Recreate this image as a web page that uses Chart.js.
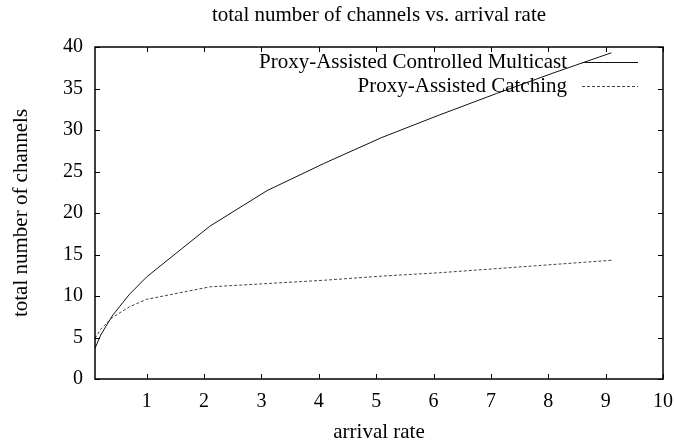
<!DOCTYPE html>
<html>
<head>
<meta charset="utf-8">
<script src="https://cdn.jsdelivr.net/npm/chart.js@4.4.1/dist/chart.umd.min.js"></script>
<style>
html,body{margin:0;padding:0;background:#fff;}
#wrap{width:674px;height:445px;}
</style>
</head>
<body>
<div id="wrap"><canvas id="c" width="674" height="445"></canvas></div>
<script>
const chartTitle = 'total number of channels vs. arrival rate';
const xTitle = 'arrival rate';
const yTitle = 'total number of channels';
const seriesNames = ['Proxy-Assisted Controlled Multicast', 'Proxy-Assisted Catching'];
const arrivalRate = [0.1, 0.2, 0.4, 0.7, 1, 2.1, 3.1, 4.1, 5.1, 6.1, 7.1, 8.1, 9.1];
const multicast = [3.7, 5.3, 7.6, 10.2, 12.3, 18.4, 22.7, 26.0, 29.1, 31.8, 34.4, 36.9, 39.3];
const catching = [4.9, 6.0, 7.4, 8.7, 9.6, 11.1, 11.5, 11.9, 12.4, 12.8, 13.3, 13.8, 14.3];
const xTicks = [1, 2, 3, 4, 5, 6, 7, 8, 9, 10];
const yTicks = [0, 5, 10, 15, 20, 25, 30, 35, 40];

const SERIF = '"Liberation Serif", "DejaVu Serif", serif';

function pts(xs, ys) { return xs.map((x, i) => ({x: x, y: ys[i]})); }

const framePlugin = {
  id: 'frame',
  afterDraw(chart) {
    const ctx = chart.ctx, a = chart.chartArea;
    const xs = chart.scales.x, ys = chart.scales.y;
    ctx.save();
    ctx.strokeStyle = '#000';
    ctx.lineWidth = 1.5;
    ctx.strokeRect(a.left, a.top, a.right - a.left, a.bottom - a.top);
    ctx.lineWidth = 1;
    const L = 5;
    xTicks.forEach(v => {
      const p = Math.round(xs.getPixelForValue(v)) + 0.5;
      ctx.beginPath();
      ctx.moveTo(p, a.bottom); ctx.lineTo(p, a.bottom - L);
      ctx.moveTo(p, a.top); ctx.lineTo(p, a.top + L);
      ctx.stroke();
    });
    yTicks.forEach(v => {
      const p = Math.round(ys.getPixelForValue(v)) + 0.5;
      ctx.beginPath();
      ctx.moveTo(a.left, p); ctx.lineTo(a.left + L, p);
      ctx.moveTo(a.right, p); ctx.lineTo(a.right - L, p);
      ctx.stroke();
    });
    // title centered over plot area
    ctx.fillStyle = '#000';
    ctx.font = '21px ' + SERIF;
    ctx.textAlign = 'center';
    ctx.textBaseline = 'middle';
    ctx.fillText(chartTitle, (a.left + a.right) / 2, 15);
    // legend (text right-aligned, sample to the right)
    ctx.font = '21px ' + SERIF;
    ctx.textAlign = 'right';
    const textRight = a.right - 96;
    const rows = [62, 86];
    chart.data.datasets.forEach((ds, i) => {
      const y = rows[i];
      ctx.fillStyle = '#000';
      ctx.fillText(ds.label, textRight, y);
      ctx.beginPath();
      ctx.strokeStyle = ds.borderColor;
      ctx.lineWidth = ds.borderWidth;
      ctx.setLineDash(ds.borderDash || []);
      ctx.moveTo(a.right - 81, y + 0.5);
      ctx.lineTo(a.right - 25, y + 0.5);
      ctx.stroke();
      ctx.setLineDash([]);
    });
    ctx.restore();
  }
};

new Chart(document.getElementById('c'), {
  type: 'line',
  data: {
    datasets: [
      {label: seriesNames[0], data: pts(arrivalRate, multicast), borderColor: '#111', borderWidth: 1, pointRadius: 0, tension: 0, fill: false},
      {label: seriesNames[1], data: pts(arrivalRate, catching), borderColor: '#444', borderWidth: 1, borderDash: [3, 2], pointRadius: 0, tension: 0, fill: false}
    ]
  },
  options: {
    responsive: false,
    animation: false,
    devicePixelRatio: 1,
    layout: {padding: {top: 47, right: 0, left: 0, bottom: 0}},
    plugins: {legend: {display: false}, title: {display: false}, tooltip: {enabled: false}},
    scales: {
      x: {
        type: 'linear', min: 0.1, max: 10,
        afterBuildTicks(s) { s.ticks = xTicks.map(v => ({value: v})); },
        afterFit(s) { s.height = 66; s.paddingRight = 11; s.paddingLeft = 0; },
        grid: {display: false, drawTicks: false},
        border: {display: false},
        ticks: {color: '#000', font: {family: SERIF, size: 20}, padding: 11, maxRotation: 0, autoSkip: false},
        title: {display: true, text: xTitle, color: '#000', font: {family: SERIF, size: 21}, padding: {top: 2, bottom: 0}}
      },
      y: {
        type: 'linear', min: 0, max: 40,
        afterBuildTicks(s) { s.ticks = yTicks.map(v => ({value: v})); },
        afterFit(s) { s.width = 95; },
        grid: {display: false, drawTicks: false},
        border: {display: false},
        ticks: {color: '#000', font: {family: SERIF, size: 20}, padding: 12, autoSkip: false},
        title: {display: true, text: yTitle, color: '#000', font: {family: SERIF, size: 21}, padding: {top: 9, bottom: 0}}
      }
    }
  },
  plugins: [framePlugin]
});
</script>
</body>
</html>
